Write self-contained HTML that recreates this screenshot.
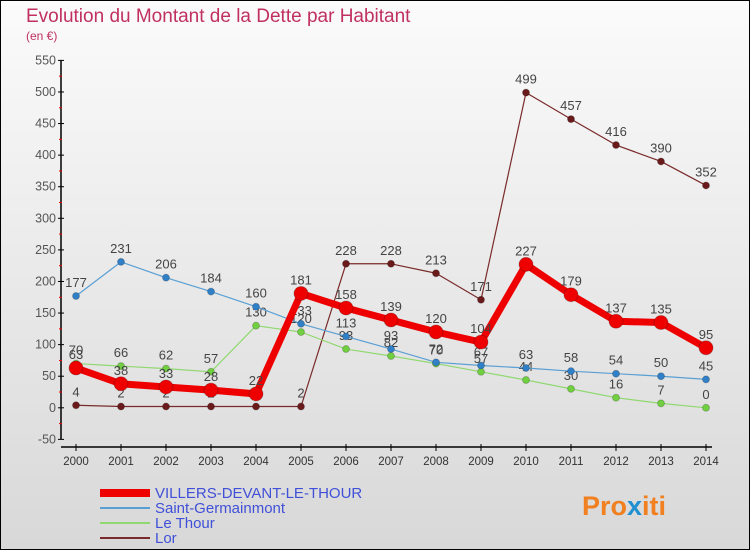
<!DOCTYPE html>
<html><head><meta charset="utf-8"><style>
html,body{margin:0;padding:0;}
body{width:750px;height:550px;overflow:hidden;font-family:"Liberation Sans",sans-serif;}
svg text{font-family:"Liberation Sans",sans-serif;}
</style></head><body>
<svg id="chart" width="750" height="550" xmlns="http://www.w3.org/2000/svg">
<defs><linearGradient id="bg" x1="0" y1="0" x2="0" y2="1"><stop offset="0" stop-color="#fbfbfb"/><stop offset="1" stop-color="#d8d8d8"/></linearGradient></defs>
<rect x="0.5" y="0.5" width="749" height="549" fill="url(#bg)" stroke="#000"/>
<text x="26" y="22" font-size="19" fill="#c03060">Evolution du Montant de la Dette par Habitant</text>
<text x="26" y="40" font-size="12" fill="#c03060">(en €)</text>
<g id="axes"></g><g id="series"></g><g id="legend"></g>
<text x="582" y="515" font-size="27" font-weight="bold" fill="#f08020">Pro<tspan fill="#2090d0">x</tspan>iti</text>
</svg>
<script>
const years=[2000,2001,2002,2003,2004,2005,2006,2007,2008,2009,2010,2011,2012,2013,2014];
const villers=[63,38,33,28,22,181,158,139,120,104,227,179,137,135,95];
const saintG=[177,231,206,184,160,133,113,93,72,67,63,58,54,50,45];
const leThour=[70,66,62,57,130,120,93,82,70,57,44,30,16,7,0];
const lor=[4,2,2,2,2,2,228,228,213,171,499,457,416,390,352];
const yTicks=[-50,0,50,100,150,200,250,300,350,400,450,500,550];
const seriesNames=["VILLERS-DEVANT-LE-THOUR","Saint-Germainmont","Le Thour","Lor"];
const NS="http://www.w3.org/2000/svg";
function X(i){return 76+i*45;}
function Y(v){return 407.8-v*(379/600);}
function mk(tag,attrs,parent){const e=document.createElementNS(NS,tag);for(const k in attrs)e.setAttribute(k,attrs[k]);parent.appendChild(e);return e;}
const ax=document.getElementById('axes');
let l=mk('line',{x1:61,y1:60,x2:61,y2:439,stroke:'#000','stroke-width':1.5},ax);


l=mk('line',{x1:61,y1:447,x2:712,y2:447,stroke:'#000','stroke-width':1.5},ax);


yTicks.forEach(v=>{const y=Y(v);
 mk('line',{x1:58,y1:y,x2:64,y2:y,stroke:'#000'},ax);
 mk('line',{x1:59,y1:y+15.8,x2:62,y2:y+15.8,stroke:v>-50?'#e00':'none'},ax);
 const t=mk('text',{x:56,y:y+4,'font-size':12.5,'text-anchor':'end',fill:'#555'},ax);t.textContent=v;
 
 });
years.forEach((yr,i)=>{mk('line',{x1:X(i),y1:444,x2:X(i),y2:451,stroke:'#000'},ax);
 const t=mk('text',{x:X(i),y:465,'font-size':11.5,'text-anchor':'middle',fill:'#333'},ax);t.textContent=yr;
 
 });
const sg=document.getElementById('series');
function draw(data,color,dot,w,r,name){
 const g=mk('g',{},sg);
 
 
 mk('polyline',{points:data.map((v,i)=>X(i)+','+Y(v)).join(' '),fill:'none',stroke:color,'stroke-width':w,'stroke-linejoin':'round'},g);
 data.forEach((v,i)=>{const c=mk('circle',{cx:X(i),cy:Y(v),r:r,fill:dot,stroke:'rgba(0,0,0,0.2)'},g);
  
  
  const t=mk('text',{x:X(i),y:Y(v)-9,'font-size':13,'text-anchor':'middle',fill:'#444'},g);t.textContent=v;});
}
draw(lor,'#7a2a2a','#6a1a1a',1.2,3.5,'series-lor');
draw(leThour,'#90d870','#70d040',1.2,3.5,'series-le-thour');
draw(saintG,'#5a9fd4','#3080c8',1.2,3.5,'series-saint-germainmont');
draw(villers,'#ee0000','#ee0000',7,7,'series-villers');
const lg=document.getElementById('legend');
const lc=['#ee0000','#5a9fd4','#90d870','#7a2a2a'],lw=[8,2,2,2];
seriesNames.forEach((n,i)=>{const y=493+i*15;
 const g=mk('g',{},lg);
 
 
 mk('line',{x1:100,y1:y,x2:150,y2:y,stroke:lc[i],'stroke-width':lw[i]},g);
 const t=mk('text',{x:155,y:y+5,'font-size':15,fill:'#4050d8'},g);t.textContent=n;});
</script>
</body></html>
